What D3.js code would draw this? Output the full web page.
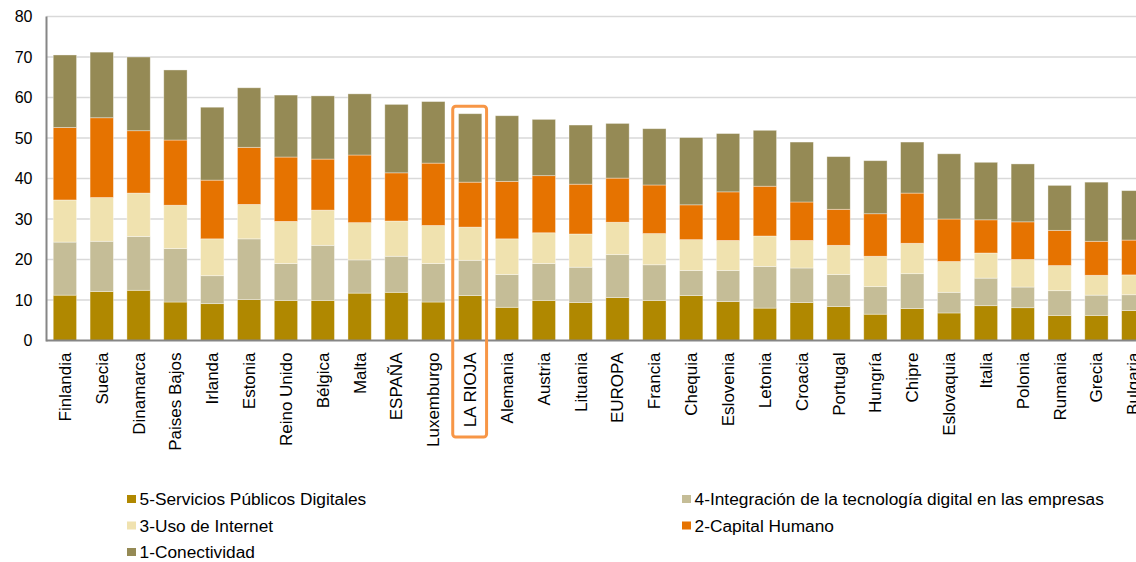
<!DOCTYPE html>
<html><head><meta charset="utf-8">
<script src="https://cdn.jsdelivr.net/npm/d3@7"></script>
<style>
html,body{margin:0;padding:0;background:#fff;overflow:hidden;}
svg{display:block;font-family:"Liberation Sans",Arial,sans-serif;}
</style></head>
<body><svg id="chart" width="1136" height="562"></svg>
<script>
const categories = ["Finlandia","Suecia","Dinamarca","Paises Bajos","Irlanda","Estonia","Reino Unido","Bélgica","Malta","ESPAÑA","Luxemburgo","LA RIOJA","Alemania","Austria","Lituania","EUROPA","Francia","Chequia","Eslovenia","Letonia","Croacia","Portugal","Hungría","Chipre","Eslovaquia","Italia","Polonia","Rumania","Grecia","Bulgaria"];
const serviciosPublicos = [11.2,12.1,12.4,9.5,9.1,10.1,9.9,9.9,11.7,11.9,9.5,11.1,8.2,9.9,9.4,10.6,9.9,11.1,9.6,8.0,9.4,8.4,6.5,7.9,6.8,8.6,8.1,6.2,6.2,7.4];
const integracionTecnologia = [13.1,12.4,13.3,13.2,6.9,15.0,9.1,13.6,8.2,8.9,9.5,8.7,8.1,9.1,8.7,10.6,8.8,6.2,7.7,10.3,8.5,7.9,6.8,8.6,5.1,6.8,5.1,6.1,5.0,3.9];
const usoInternet = [10.4,10.8,10.7,10.7,9.1,8.5,10.4,8.7,9.2,8.7,9.4,8.2,8.8,7.6,8.2,8.0,7.7,7.6,7.4,7.5,6.8,7.2,7.5,7.5,7.6,6.2,6.8,6.2,4.9,4.9];
const capitalHumano = [17.9,19.7,15.4,16.1,14.5,14.1,15.9,12.6,16.7,11.9,15.4,11.1,14.2,14.1,12.3,10.9,12.0,8.6,12.0,12.3,9.5,8.9,10.5,12.4,10.5,8.2,9.3,8.7,8.4,8.6];
const conectividad = [17.9,16.2,18.2,17.3,18.0,14.7,15.3,15.6,15.1,16.9,15.2,16.9,16.2,13.9,14.6,13.5,13.9,16.6,14.4,13.8,14.8,13.0,13.1,12.6,16.1,14.2,14.3,11.1,14.6,12.2];
const seriesNames = ["5-Servicios Públicos Digitales","4-Integración de la tecnología digital en las empresas","3-Uso de Internet","2-Capital Humano","1-Conectividad"];
const seriesColors = ["#b08800","#c5bd97","#f0e2af","#e67300","#958a55"];
const yTicks = [0,10,20,30,40,50,60,70,80];
const highlighted = "LA RIOJA";

const seriesValues = [serviciosPublicos,integracionTecnologia,usoInternet,capitalHumano,conectividad];
const keys = ["s5","s4","s3","s2","s1"];
const table = categories.map((c,i)=>{const o={cat:c}; keys.forEach((k,j)=>o[k]=seriesValues[j][i]); return o;});

const svg = d3.select("#chart");
const margin = {left:46.5, top:16.5, bottom:340.5};
const x = d3.scaleBand().domain(categories).range([margin.left, margin.left + 36.84*categories.length]).paddingInner(0.367).paddingOuter(0.183);
const y = d3.scaleLinear().domain([0,80]).range([margin.bottom, margin.top]);

// gridlines
svg.append("g").selectAll("line").data(yTicks.filter(d=>d>0)).join("line")
  .attr("x1", margin.left).attr("x2", 1136)
  .attr("y1", d=>y(d)).attr("y2", d=>y(d))
  .attr("stroke","#d9d9d9").attr("stroke-width",1.5);

// y axis labels
const yAxis = d3.axisLeft(y).tickValues(yTicks).tickSize(0).tickPadding(14);
const gy = svg.append("g").attr("transform",`translate(${margin.left},0)`).call(yAxis);
gy.select(".domain").remove();
gy.selectAll("text").attr("font-size","16px").attr("fill","#000").attr("font-family","'Liberation Sans',Arial,sans-serif");

// stacked bars
const stack = d3.stack().keys(keys)(table);
svg.append("g").selectAll("g").data(stack).join("g")
  .attr("fill",(d,i)=>seriesColors[i])
  .selectAll("rect").data(d=>d).join("rect")
  .attr("x", d=>x(d.data.cat)).attr("width", x.bandwidth())
  .attr("y", d=>y(d[1])).attr("height", d=>y(d[0])-y(d[1]))
  .attr("stroke","rgba(255,255,255,0.45)").attr("stroke-width",0.8);

// axes lines
svg.append("line").attr("x1",margin.left).attr("x2",margin.left).attr("y1",y(80)).attr("y2",y(0)+1)
  .attr("stroke","#868686").attr("stroke-width",2);
svg.append("line").attr("x1",margin.left).attr("x2",1136).attr("y1",y(0)).attr("y2",y(0))
  .attr("stroke","#868686").attr("stroke-width",2);

// x labels
const xAxis = d3.axisBottom(x).tickSize(0).tickPadding(0);
const gx = svg.append("g").attr("transform",`translate(0,${y(0)})`).call(xAxis);
gx.select(".domain").remove();
gx.selectAll("text")
  .attr("font-size","17px").attr("fill","#000").attr("font-family","'Liberation Sans',Arial,sans-serif")
  .attr("text-anchor","end").attr("transform","rotate(-90)")
  .attr("x",-12).attr("y",0).attr("dy","0.35em");

// highlight box
const hi = categories.indexOf(highlighted);
const hx0 = x(highlighted) - x.step()*x.paddingInner()/2;
const htot = seriesValues.reduce((s,a)=>s+a[hi],0);
svg.append("rect").attr("x", hx0+1).attr("y", y(htot)-7.5)
  .attr("width", x.step()-3).attr("height", 437 - (y(htot)-7.5))
  .attr("rx",3).attr("fill","none").attr("stroke","#f79646").attr("stroke-width",3);

// legend
const legendPos = [[127,499],[682,499],[127,525.5],[682,525.5],[127,552]];
const lg = svg.append("g").selectAll("g").data(seriesNames).join("g")
  .attr("transform",(d,i)=>`translate(${legendPos[i][0]},${legendPos[i][1]})`);
lg.append("rect").attr("x",0).attr("y",-4).attr("width",9).attr("height",8).attr("fill",(d,i)=>seriesColors[i]);
lg.append("text").attr("x",12.6).attr("y",0).attr("dy","0.35em").attr("font-size","17.3px").attr("fill","#000").text(d=>d);
</script></body></html>
